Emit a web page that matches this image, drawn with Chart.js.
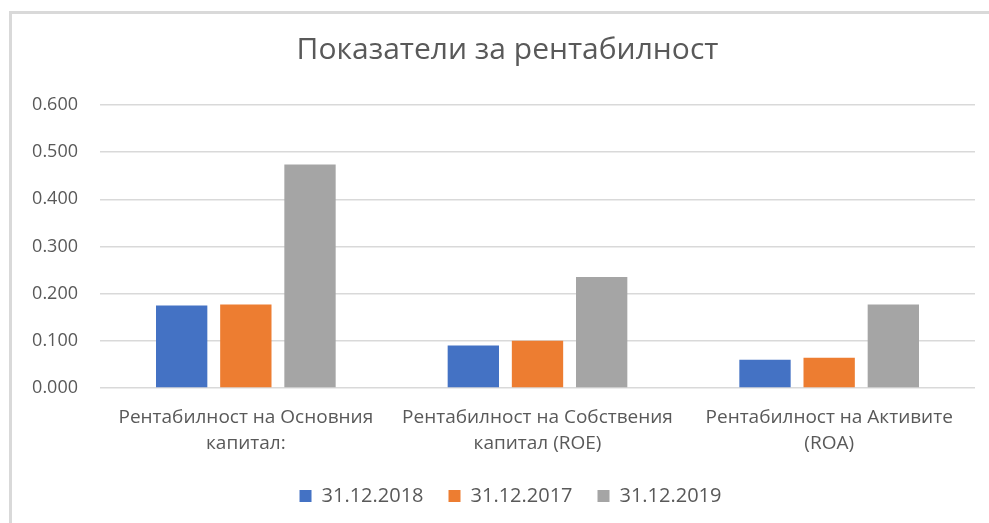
<!DOCTYPE html>
<html>
<head>
<meta charset="utf-8">
<script src="https://cdn.jsdelivr.net/npm/chart.js@4"></script>
<style>
    html, body { margin: 0; padding: 0; background: #ffffff; }
    .frame {
        position: absolute; left: 0; top: 0; width: 989px; height: 523px;
    }
    .edge {
        position: absolute; left: 9px; top: 11px; width: 980px; height: 512px;
        border-left: 3px solid #d9d9d9; border-top: 3px solid #d9d9d9;
        box-sizing: border-box; pointer-events: none;
    }
</style>
</head>
<body>
<div class="frame">
    <canvas id="profitChart" width="989" height="523"></canvas>
    <div class="edge"></div>
</div>
<script>
        // Data
        const categories = [
            ['Рентабилност на Основния', 'капитал:'],
            ['Рентабилност на Собствения', 'капитал (ROE)'],
            ['Рентабилност на Активите', '(ROA)']
        ];
        const seriesNames = ['31.12.2018', '31.12.2017', '31.12.2019'];
        const values2018 = [0.175, 0.090, 0.060];
        const values2017 = [0.177, 0.100, 0.064];
        const values2019 = [0.474, 0.235, 0.177];
        const yTicks = [0, 0.1, 0.2, 0.3, 0.4, 0.5, 0.6];

        const textColor = '#595959';
        const fontFamily = '"Open Sans", "Noto Sans", sans-serif';

        // The original chart is cropped on the right, so title and legend
        // sit a bit left of the plot centre: start their boxes further right.
        const centreShift = {
            id: 'centreShift',
            afterLayout(chart) {
                chart.titleBlock.left = 40;
                chart.legend.left = 46;
            }
        };

        const ctx = document.getElementById('profitChart').getContext('2d');
        new Chart(ctx, {
            type: 'bar',
            data: {
                labels: categories,
                datasets: [{
                    label: seriesNames[0],
                    data: values2018,
                    backgroundColor: '#4472c4'
                }, {
                    label: seriesNames[1],
                    data: values2017,
                    backgroundColor: '#ed7d31'
                }, {
                    label: seriesNames[2],
                    data: values2019,
                    backgroundColor: '#a5a5a5'
                }]
            },
            plugins: [centreShift],
            options: {
                responsive: false,
                animation: false,
                datasets: {
                    bar: {
                        categoryPercentage: 0.66,
                        barPercentage: 0.8
                    }
                },
                layout: {
                    padding: { left: 12, right: 14, top: 0, bottom: 7 }
                },
                plugins: {
                    title: {
                        display: true,
                        text: 'Показатели за рентабилност',
                        color: textColor,
                        font: { family: fontFamily, size: 30, weight: 'normal' },
                        padding: { top: 32, bottom: 37 }
                    },
                    legend: {
                        position: 'bottom',
                        labels: {
                            color: textColor,
                            boxWidth: 12,
                            boxHeight: 12,
                            padding: 25,
                            font: { family: fontFamily, size: 20 }
                        }
                    },
                    tooltip: { enabled: false }
                },
                scales: {
                    y: {
                        min: 0,
                        max: 0.6,
                        afterBuildTicks: function(scale) {
                            scale.ticks = yTicks.map(v => ({ value: v }));
                        },
                        afterFit: function(scale) {
                            scale.width = 88;
                        },
                        border: { display: false },
                        grid: {
                            color: '#d9d9d9',
                            lineWidth: 1.5,
                            drawTicks: false
                        },
                        ticks: {
                            color: textColor,
                            padding: 22,
                            font: { family: fontFamily, size: 18 },
                            callback: function(value) {
                                return value.toFixed(3);
                            }
                        }
                    },
                    x: {
                        afterFit: function(scale) {
                            scale.height = scale.height - 5;
                        },
                        border: { display: false },
                        grid: { display: false },
                        ticks: {
                            color: textColor,
                            padding: 9,
                            maxRotation: 0,
                            font: { family: fontFamily, size: 19, lineHeight: 1.37 }
                        }
                    }
                }
            }
        });
</script>
</body>
</html>
